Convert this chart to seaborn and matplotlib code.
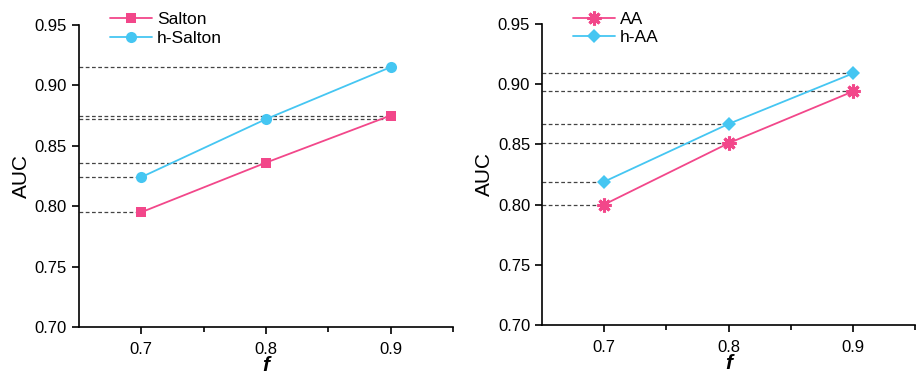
import pandas as pd
import seaborn as sns
import matplotlib.pyplot as plt

# AUC vs f
f_vals = [0.7, 0.8, 0.9]
salton = [0.795, 0.836, 0.875]
h_salton = [0.824, 0.872, 0.915]
aa = [0.800, 0.851, 0.894]
h_aa = [0.819, 0.867, 0.909]
y_ticks = [0.70, 0.75, 0.80, 0.85, 0.90, 0.95]
x_ticks = [0.7, 0.8, 0.9]

pink = "#F2478A"
cyan = "#45C6F2"

sns.set_style("ticks")
plt.rcParams['font.family'] = ['Liberation Sans', 'DejaVu Sans']
plt.rcParams['text.color'] = 'black'
plt.rcParams['axes.labelcolor'] = 'black'
plt.rcParams['xtick.color'] = 'black'
plt.rcParams['ytick.color'] = 'black'

fig = plt.figure(figsize=(9.17, 3.76), dpi=100)
ax1 = fig.add_axes([0.086, 0.130, 0.408, 0.804])
ax2 = fig.add_axes([0.591, 0.136, 0.407, 0.800])


def panel(ax, names, series, markers, sizes, edgewidths, guide_ends):
    # dashed guide lines from the y axis to each point
    for vals, ends in zip(series, guide_ends):
        for v, e in zip(vals, ends):
            ax.plot([0.65, e], [v, v], ls=(0, (3, 2)), color="#444444", lw=0.9, zorder=1)
    for name, vals, col, m, ms, mew in zip(names, series, [pink, cyan], markers, sizes, edgewidths):
        df = pd.DataFrame({"f": f_vals, "AUC": vals})
        sns.lineplot(data=df, x="f", y="AUC", color=col, marker=m, markersize=ms,
                     markeredgewidth=mew, markeredgecolor=col, lw=1.3, label=name,
                     ax=ax, zorder=3)
    ax.set_xlim(0.65, 0.95)
    ax.set_ylim(0.70, 0.95)
    ax.set_xticks(x_ticks)
    ax.set_xticklabels([str(x) for x in x_ticks])
    ax.set_xticks([0.75, 0.85, 0.95], minor=True)
    ax.set_yticks(y_ticks)
    ax.set_yticklabels(["%.2f" % y for y in y_ticks])
    ax.tick_params(axis="both", which="major", labelsize=12, length=5, width=1.2, color="black")
    ax.tick_params(axis="x", which="major", pad=6)
    ax.tick_params(axis="x", which="minor", length=3.5, width=1.2, color="black")
    ax.set_xlabel("f", fontsize=15, style="italic", fontweight="bold", labelpad=-1)
    ax.set_ylabel("AUC", fontsize=15, labelpad=3)
    sns.despine(ax=ax)
    for s in ["left", "bottom"]:
        ax.spines[s].set_linewidth(1.2)
        ax.spines[s].set_color("black")
    ax.legend(loc="upper left", bbox_to_anchor=(0.065, 1.065), frameon=False,
              fontsize=12.5, handlelength=2.4, handletextpad=0.3, labelspacing=0.2,
              borderaxespad=0)


panel(ax1, ["Salton", "h-Salton"], [salton, h_salton], ["s", "o"], [7, 8], [0, 0],
      [[0.7, 0.8, 0.9], [0.7, 0.9, 0.9]])
panel(ax2, ["AA", "h-AA"], [aa, h_aa], [(8, 2, 0), "D"], [10, 7], [2.2, 0],
      [[0.7, 0.8, 0.9], [0.7, 0.8, 0.9]])

fig.savefig("out.png", dpi=100)
